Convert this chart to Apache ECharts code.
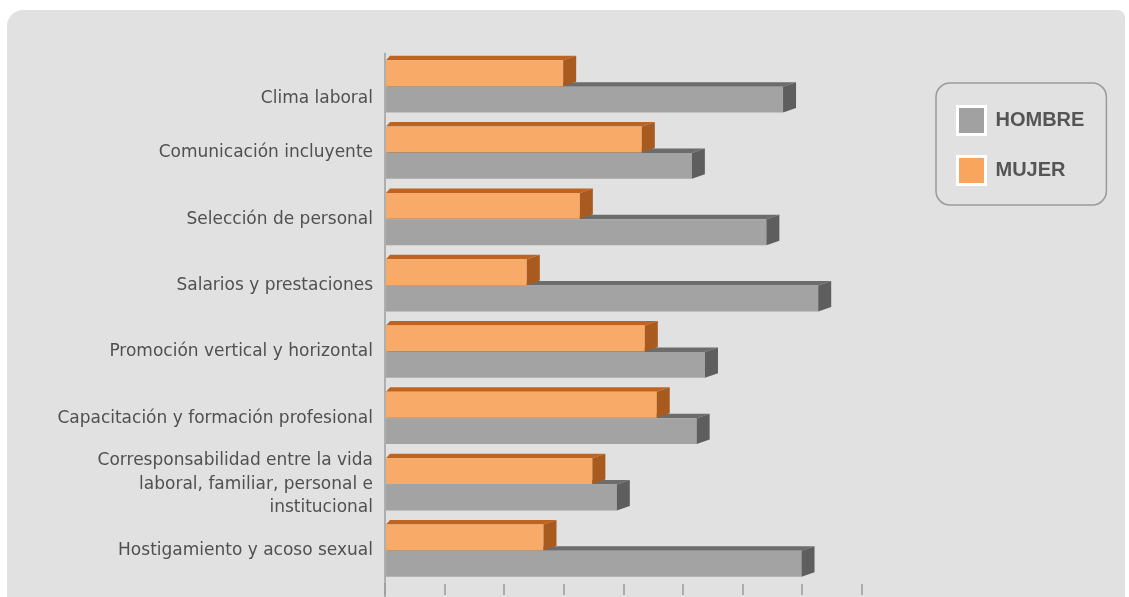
<!DOCTYPE html>
<html><head><meta charset="utf-8">
<script src="https://cdn.jsdelivr.net/npm/echarts@6/dist/echarts.min.js"></script>
<style>html,body{margin:0;padding:0;background:#fff}#c{width:1129px;height:597px}</style>
</head><body><div id="c"></div>
<script>
const categories = [
  'Clima laboral',
  'Comunicación incluyente',
  'Selección de personal',
  'Salarios y prestaciones',
  'Promoción vertical y horizontal',
  'Capacitación y formación profesional',
  'Corresponsabilidad entre la vida\nlaboral, familiar, personal e\ninstitucional',
  'Hostigamiento y acoso sexual'
];
const hombre = [66.8, 51.5, 64.0, 72.7, 53.7, 52.3, 38.9, 69.9];
const mujer  = [29.9, 43.1, 32.7, 23.8, 43.6, 45.6, 34.8, 26.6];
const seriesNames = ['HOMBRE', 'MUJER'];

const COL = {
  HOMBRE: {front: '#A3A3A3', top: '#6C6C6C', side: '#5E5E5E', legend: '#A1A1A1'},
  MUJER:  {front: '#F8AA68', top: '#BF6420', side: '#A95A1E', legend: '#F9A55E'}
};

function bar3d(pos, c) {
  return function (params, api) {
    const ci = api.value(1);
    const end = api.coord([api.value(0), ci]);
    const start = api.coord([0, ci]);
    const band = api.size([0, 1])[1];
    const h = band * 0.39;
    const y0 = pos < 0 ? end[1] - h - 0.5 : end[1];
    const y1 = y0 + h;
    const x0 = start[0] + 1, x1 = end[0];
    const dx = 13, dy = 4.5;
    return {type: 'group', children: [
      {type: 'polygon', shape: {points: [[x0, y0], [x0 + 4, y0 - dy], [x1 + dx, y0 - dy], [x1, y0]]}, style: {fill: c.top}},
      {type: 'rect', shape: {x: x0, y: y0, width: x1 - x0, height: h}, style: {fill: c.front}},
      {type: 'polygon', shape: {points: [[x1, y0], [x1 + dx, y0 - dy], [x1 + dx, y1 - dy], [x1, y1]]}, style: {fill: c.side}}
    ]};
  };
}

const chart = echarts.init(document.getElementById('c'));
chart.setOption({
  animation: false,
  backgroundColor: '#ffffff',
  graphic: [
    {type: 'rect', z: -10, shape: {x: 7, y: 10, width: 1118, height: 600, r: [16, 8, 0, 0]}, style: {fill: '#E1E1E1'}},
    {type: 'line', z: 5, shape: {x1: 385, y1: 583, x2: 385, y2: 597}, style: {stroke: '#9C9C9C', lineWidth: 1.5}}
  ],
  grid: {left: 385, right: 267.3, top: 53.5, bottom: 13, containLabel: false},
  legend: {
    orient: 'vertical', left: 936, top: 83,
    padding: [22, 22, 19, 20],
    itemWidth: 28, itemHeight: 28, itemGap: 19,
    borderColor: '#9A9A9A', borderWidth: 1.5, borderRadius: 14,
    icon: 'rect',
    itemStyle: {borderColor: '#ffffff', borderWidth: 3},
    textStyle: {color: '#555555', fontSize: 20, fontWeight: 'bold',
      fontFamily: "'Liberation Sans', Arial, sans-serif", padding: [0, 0, 0, 5]},
    data: seriesNames.map(n => ({name: n, itemStyle: {color: COL[n].legend, borderColor: '#fff', borderWidth: 3}}))
  },
  xAxis: {
    type: 'value', min: 0, max: 80, interval: 10,
    splitLine: {show: false},
    axisLine: {show: false},
    axisTick: {show: true, length: 11, lineStyle: {color: '#9A9A9A', width: 1.5}},
    axisLabel: {show: false}
  },
  yAxis: {
    type: 'category', inverse: true,
    data: categories.map((c, i) => i === 0 ? {value: c, textStyle: {verticalAlign: 'top'}} : c),
    axisLine: {show: true, lineStyle: {color: '#9C9C9C', width: 1.5}},
    axisTick: {show: false},
    axisLabel: {color: '#505050', fontSize: 17, fontFamily: "'DejaVu Sans', sans-serif", margin: 12, lineHeight: 23.5}
  },
  series: [
    {name: 'HOMBRE', type: 'custom', renderItem: bar3d(1, COL.HOMBRE), itemStyle: {color: COL.HOMBRE.legend},
      encode: {x: 0, y: 1}, data: hombre.map((v, i) => [v, i])},
    {name: 'MUJER', type: 'custom', renderItem: bar3d(-1, COL.MUJER), itemStyle: {color: COL.MUJER.legend},
      encode: {x: 0, y: 1}, data: mujer.map((v, i) => [v, i])}
  ]
});
</script>
</body></html>
